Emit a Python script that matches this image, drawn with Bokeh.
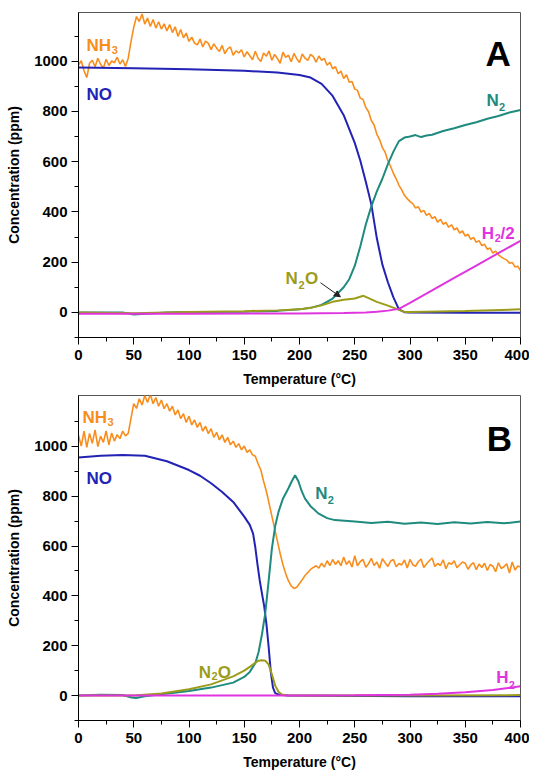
import numpy as np
from bokeh.plotting import figure
from bokeh.layouts import column
from bokeh.models import Label, Arrow, NormalHead, FixedTicker, Range1d
from bokeh.embed import file_html
from bokeh.resources import INLINE

FONT = "Liberation Sans"
C_NH3 = "#F98D1C"
C_NO = "#2222B4"
C_N2 = "#1F8A7E"
C_N2O = "#9C9C1C"
C_H2 = "#E034E0"

X_TICKS = [0, 50, 100, 150, 200, 250, 300, 350, 400]
X_MINOR = [25, 75, 125, 175, 225, 275, 325, 375]
Y_TICKS = [0, 200, 400, 600, 800, 1000]
Y_MINOR = [-100, 100, 300, 500, 700, 900, 1100]

# NH3 sampled every 2.5 degC (0..400)
T_FINE = np.arange(0, 400.01, 2.5)

A_NH3 = [985, 1002, 962, 935, 992, 1004, 978, 1012, 988, 972, 1008, 983, 1001, 994, 1016, 989, 1006, 979,
         1012, 1078, 1135, 1178, 1158, 1188, 1148, 1172, 1138, 1166, 1132, 1157, 1128, 1149, 1121, 1146, 1114, 1137, 1099, 1126, 1093, 1112,
         1079, 1096, 1072, 1065, 1088, 1057, 1080, 1071, 1046, 1069, 1052, 1039, 1063, 1030, 1049, 1057, 1024, 1041, 1033, 1046,
         1017, 1038, 1022, 1006, 1040, 1012, 999, 1033, 1020, 1041, 1004, 1027, 1011, 992, 1036, 1015, 1024, 998, 1031, 1010,
         995, 1029, 1012, 1003, 1027, 1018, 996, 1021, 1004, 1011, 984, 996, 970, 978, 950, 961, 931, 946, 916, 919,
         889, 884, 853, 848, 816, 799, 764, 746, 709, 688, 656, 638, 603, 581, 553, 532, 506, 488, 466, 453,
         441, 433, 416, 421, 399, 406, 386, 394, 374, 381, 359, 371, 351, 358, 339, 349, 329, 336, 316, 324,
         304, 311, 291, 299, 279, 286, 266, 271, 251, 256, 236, 244, 229, 221, 214, 209, 196, 199, 181, 184,
         166]

A_NO_T = [0, 50, 100, 150, 180, 200, 210, 220, 230, 240, 250, 255, 260, 265, 270, 275, 280, 285, 290, 295, 300, 350, 400]
A_NO = [975, 972, 968, 962, 955, 945, 935, 910, 862, 785, 675, 605, 520, 430, 295, 190, 120, 60, 12, 1, 0, -1, -1]

A_N2_T = [0, 40, 50, 60, 80, 100, 150, 180, 200, 210, 220, 230, 240, 245, 250, 255, 260, 265, 270, 275, 280, 285,
          290, 295, 300, 305, 310, 315, 320, 330, 340, 350, 360, 370, 380, 390, 400]
A_N2 = [0, 0, -8, -5, 0, 2, 3, 6, 12, 18, 30, 55, 100, 132, 185, 262, 350, 422, 482, 532, 590, 640,
        682, 696, 700, 706, 698, 704, 707, 722, 733, 746, 757, 771, 782, 796, 806]

A_N2O_T = [0, 50, 100, 150, 180, 200, 210, 220, 230, 240, 250, 255, 258, 262, 270, 280, 290, 295, 300, 350, 400]
A_N2O = [0, -3, 2, 5, 8, 12, 18, 28, 42, 50, 55, 62, 66, 58, 42, 27, 10, 2, 2, 6, 12]

A_H2_T = [0, 100, 200, 240, 260, 270, 280, 290, 300, 320, 340, 360, 380, 400]
A_H2 = [-5, -5, -4, -2, 0, 3, 7, 14, 38, 88, 137, 186, 236, 285]

B_NH3 = [1044, 1001, 1061, 996, 1052, 1012, 1066, 999, 1041, 1016, 1062, 1006, 1054, 1021, 1047, 1031, 1061, 1042,
         1052, 1112, 1171, 1152, 1191, 1166, 1204, 1176, 1209, 1171, 1196, 1161, 1186, 1151, 1171, 1141, 1161, 1126, 1146, 1111, 1131, 1096,
         1121, 1086, 1106, 1076, 1096, 1061, 1081, 1051, 1071, 1036, 1056, 1026, 1046, 1016, 1036, 1006, 1021, 996, 1011, 986,
         1001, 976, 986, 966, 960, 930, 905, 860, 820, 770, 720, 670, 620, 570, 525, 490, 460, 440, 430, 435,
         450, 465, 482, 494, 506, 514, 521, 511, 531, 516, 541, 521, 546, 526, 541, 521, 556, 526, 541, 516,
         561, 521, 538, 546, 515, 529, 551, 522, 536, 511, 549, 533, 518, 540, 546, 517, 530, 524, 544, 512,
         546, 525, 519, 537, 548, 514, 529, 541, 552, 518, 530, 522, 545, 509, 533, 527, 541, 513, 525, 536,
         531, 507, 524, 533, 505, 528, 514, 531, 502, 526, 519, 497, 533, 510, 517, 529, 492, 536, 504, 520,
         516]

B_NO_T = [0, 20, 40, 60, 80, 100, 110, 120, 130, 140, 150, 155, 158, 160, 162, 164, 166, 168, 170, 172, 174, 176, 178, 182, 190, 300, 400]
B_NO = [955, 962, 965, 962, 940, 905, 882, 852, 817, 777, 718, 685, 650, 595, 525, 462, 410, 360, 290, 200, 95, 32, 10, 3, 0, -3, -3]

B_N2_T = [0, 20, 40, 48, 52, 60, 75, 100, 120, 140, 150, 155, 160, 163, 166, 169, 172, 175, 178, 181, 185, 190,
          193, 196, 199, 202, 205, 210, 217, 225, 232, 250, 265, 280, 295, 310, 325, 340, 355, 370, 385, 400]
B_N2 = [0, 3, 2, -8, -10, -3, 5, 18, 32, 52, 75, 95, 130, 175, 245, 330, 457, 590, 680, 737, 790, 832,
        860, 884, 860, 820, 790, 760, 731, 712, 704, 698, 692, 697, 689, 694, 688, 695, 690, 696, 691, 698]

B_N2O_T = [0, 50, 75, 100, 120, 140, 150, 155, 160, 163, 166, 169, 172, 175, 178, 181, 184, 188, 200, 300, 400]
B_N2O = [0, 0, 8, 25, 45, 77, 100, 115, 132, 140, 142, 140, 125, 85, 40, 15, 4, 1, 0, 0, 2]

B_H2_T = [0, 100, 200, 250, 300, 325, 350, 375, 400]
B_H2 = [0, 0, 0, 1, 3, 7, 13, 22, 37]


def make_fig(ymax, border_top, border_bottom, title_standoff):
    p = figure(frame_width=442, frame_height=325,
               x_range=Range1d(0, 400), y_range=Range1d(-100, ymax),
               output_backend="svg", toolbar_location=None,
               min_border_left=78, min_border_right=9,
               min_border_top=border_top, min_border_bottom=border_bottom)
    p.xgrid.visible = False
    p.ygrid.visible = False
    p.outline_line_color = "#555555"
    p.outline_line_width = 1
    p.xaxis.ticker = FixedTicker(ticks=X_TICKS, minor_ticks=X_MINOR)
    p.yaxis.ticker = FixedTicker(ticks=Y_TICKS, minor_ticks=Y_MINOR)
    for ax in (p.xaxis, p.yaxis):
        ax.axis_line_color = "black"
        ax.major_tick_line_color = "black"
        ax.minor_tick_line_color = "black"
        ax.major_tick_in = 0
        ax.major_tick_out = 7
        ax.minor_tick_in = 0
        ax.minor_tick_out = 4
        ax.major_label_text_font = FONT
        ax.major_label_text_font_size = "15px"
        ax.major_label_text_font_style = "bold"
        ax.major_label_text_color = "black"
        ax.axis_label_text_font = FONT
        ax.axis_label_text_font_size = "14px"
        ax.axis_label_text_font_style = "bold"
        ax.axis_label_text_color = "black"
    p.xaxis.axis_label = "Temperature (°C)"
    p.yaxis.axis_label = "Concentration (ppm)"
    p.xaxis.major_label_standoff = 5
    p.xaxis.axis_label_standoff = title_standoff
    p.yaxis.major_label_standoff = 4
    p.yaxis.axis_label_standoff = 9
    return p


def lab(p, x, y, text, color, size="17px"):
    p.add_layout(Label(x=x, y=y, text=text, text_color=color, text_font=FONT,
                       text_font_size=size, text_font_style="bold",
                       text_baseline="alphabetic", text_align="left"))


# Panel A
pa = make_fig(1194, 12, 53, 8)
pa.line(T_FINE, A_NH3, line_color=C_NH3, line_width=1.6)
pa.line(A_NO_T, A_NO, line_color=C_NO, line_width=2)
pa.line(A_N2_T, A_N2, line_color=C_N2, line_width=2)
pa.line(A_N2O_T, A_N2O, line_color=C_N2O, line_width=2)
pa.line(A_H2_T, A_H2, line_color=C_H2, line_width=2)
lab(pa, 7.2, 1063, "NH", C_NH3)
lab(pa, 30.0, 1046, "3", C_NH3, "11px")
lab(pa, 7.2, 869, "NO", C_NO)
lab(pa, 368.3, 1032, "A", "black", "35px")
lab(pa, 369.2, 845, "N", C_N2)
lab(pa, 380.6, 817, "2", C_N2, "11px")
lab(pa, 365.0, 316, "H", C_H2)
lab(pa, 376.6, 296, "2", C_H2, "11px")
lab(pa, 382.0, 316, "/2", C_H2)
lab(pa, 187.3, 135, "N", C_N2O)
lab(pa, 199.0, 111, "2", C_N2O, "11px")
lab(pa, 205.0, 135, "O", C_N2O)
pa.add_layout(Arrow(end=NormalHead(size=6, fill_color="#222222", line_color="#222222"),
                    x_start=219, y_start=118, x_end=237, y_end=62,
                    line_color="#222222", line_width=1))

# Panel B
pb = make_fig(1204, 5, 56, 8)
pb.line(T_FINE, B_NH3, line_color=C_NH3, line_width=1.6)
pb.line(B_NO_T, B_NO, line_color=C_NO, line_width=2)
pb.line(B_N2_T, B_N2, line_color=C_N2, line_width=2)
pb.line(B_N2O_T, B_N2O, line_color=C_N2O, line_width=2)
pb.line(B_H2_T, B_H2, line_color=C_H2, line_width=2)
lab(pb, 3.6, 1116, "NH", C_NH3)
lab(pb, 26.2, 1096, "3", C_NH3, "11px")
lab(pb, 7.2, 872, "NO", C_NO)
lab(pb, 369.5, 1031, "B", "black", "35px")
lab(pb, 214.2, 811, "N", C_N2)
lab(pb, 225.6, 784, "2", C_N2, "11px")
lab(pb, 108.9, 91, "N", C_N2O)
lab(pb, 120.3, 77, "2", C_N2O, "11px")
lab(pb, 126.0, 91, "O", C_N2O)
lab(pb, 378.0, 71, "H", C_H2)
lab(pb, 389.4, 44, "2", C_H2, "11px")

layout = column(pa, pb)
open("out.html", "w").write(file_html(layout, INLINE))
